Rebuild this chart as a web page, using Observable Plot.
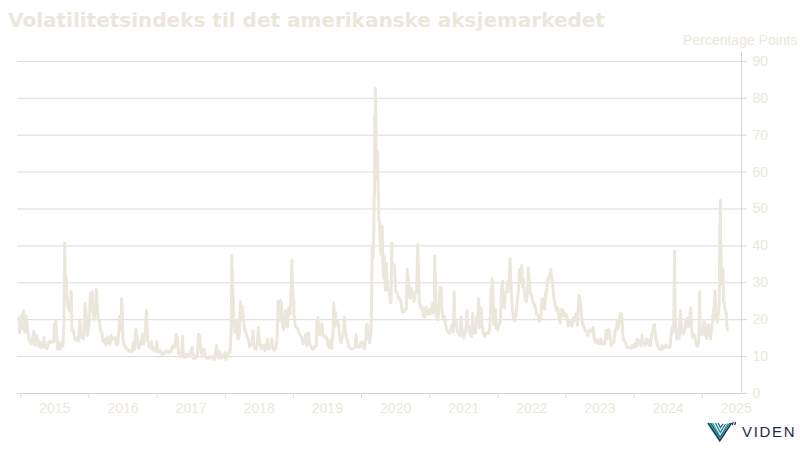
<!DOCTYPE html>
<html><head><meta charset="utf-8">
<script src="https://cdn.jsdelivr.net/npm/d3@7"></script>
<script src="https://cdn.jsdelivr.net/npm/@observablehq/plot@0.6"></script>
<style>
body{margin:0;background:#fff;}
#wrap{position:relative;width:800px;height:450px;overflow:hidden;background:#fff;}
#chart{position:absolute;left:0;top:0;}
#title{position:absolute;left:8px;top:8px;font-family:"DejaVu Sans",Verdana,sans-serif;font-weight:bold;font-size:20px;color:#ebe7da;white-space:nowrap;line-height:24px;}
#logo{position:absolute;left:707px;top:420px;height:22px;display:flex;align-items:center;}
#logo span{font-family:"Liberation Sans",Arial,sans-serif;font-size:15px;letter-spacing:1.7px;color:#1d2b4f;margin-left:4px;margin-top:0px;}
</style></head>
<body>
<div id="wrap">
<div id="chart"></div>
<div id="title">Volatilitetsindeks til det amerikanske aksjemarkedet</div>
<div id="logo">
<svg width="31" height="21" viewBox="0 0 31 21">
<polygon points="1,2 5,2 13,17 12.5,19.5" fill="#37bfa6"/>
<polyline points="5.5,2 13.2,16 21,2.5" fill="none" stroke="#2fa9a0" stroke-width="1.4"/>
<polyline points="8.5,2 13.3,11.5 18.5,3" fill="none" stroke="#2a8b98" stroke-width="1.4"/>
<polyline points="11.2,2 13.4,6.5 16,3" fill="none" stroke="#27708a" stroke-width="1.3"/>
<polyline points="1,2 12.8,19.8 24.5,2" fill="none" stroke="#1f3a5f" stroke-width="1.6"/>
<polyline points="3.5,2 13,16.5 22.8,2" fill="none" stroke="#254e73" stroke-width="1"/>
<line x1="26.2" y1="1" x2="25.4" y2="4" stroke="#1d2b4f" stroke-width="1.2"/>
<line x1="28.6" y1="1" x2="27.8" y2="4" stroke="#1d2b4f" stroke-width="1.2"/>
</svg><span>VIDEN</span></div>
</div>
<script>
// VIX daily close readings (month-day, points), per year
const vix2014 = [["12-22",20.5],["12-26",16.5],["12-31",19.2]];
const vix2015 = [["01-02",17.79],["01-06",21.12],["01-09",17.55],["01-15",22.39],["01-16",20.95],["01-23",16.66],["01-29",18.63],["01-30",20.97],["02-06",17.29],["02-13",14.69],["02-20",14.30],["02-27",13.34],["03-06",15.20],["03-11",16.87],["03-13",16.00],["03-20",13.02],["03-26",15.80],["03-27",15.07],["04-02",14.67],["04-10",12.58],["04-17",13.89],["04-24",12.29],["05-01",12.70],["05-06",15.15],["05-08",12.86],["05-15",12.38],["05-22",12.13],["05-29",13.84],["06-05",14.21],["06-12",13.78],["06-19",13.96],["06-26",14.02],["06-29",18.85],["07-02",16.79],["07-08",19.66],["07-10",16.83],["07-17",11.95],["07-24",13.74],["07-31",12.12],["08-07",13.39],["08-14",12.83],["08-20",19.14],["08-21",28.03],["08-24",40.74],["08-25",36.02],["08-26",30.32],["08-27",26.10],["08-28",26.05],["09-01",31.40],["09-04",27.80],["09-11",23.20],["09-18",22.28],["09-25",23.62],["09-28",27.63],["10-02",17.08],["10-09",17.08],["10-16",15.05],["10-23",14.46],["10-30",15.07],["11-06",14.33],["11-13",20.08],["11-20",15.47],["11-27",15.12],["12-04",14.81],["12-11",24.39],["12-14",22.73],["12-18",20.70],["12-24",15.74],["12-31",18.21]];
const vix2016 = [["01-04",20.70],["01-07",24.99],["01-08",27.01],["01-15",24.95],["01-20",27.59],["01-22",22.34],["01-29",20.20],["02-05",23.38],["02-11",28.14],["02-12",25.40],["02-19",20.53],["02-26",19.81],["03-04",16.86],["03-11",16.50],["03-18",14.02],["03-24",14.74],["04-01",13.10],["04-08",15.36],["04-15",13.62],["04-22",13.22],["04-29",15.70],["05-06",14.72],["05-13",15.04],["05-20",15.20],["05-27",13.12],["06-03",13.47],["06-10",17.03],["06-13",20.97],["06-17",19.41],["06-23",17.25],["06-24",25.76],["06-27",23.85],["07-01",14.77],["07-08",13.20],["07-15",12.67],["07-22",12.02],["07-29",11.87],["08-05",11.39],["08-12",11.55],["08-19",11.34],["08-26",13.65],["09-02",11.98],["09-09",17.50],["09-12",15.16],["09-16",15.37],["09-23",12.29],["09-30",13.29],["10-07",13.48],["10-14",16.12],["10-21",13.34],["10-28",16.19],["11-04",22.51],["11-11",14.17],["11-18",12.85],["11-25",12.34],["12-02",14.12],["12-09",11.75],["12-16",12.20],["12-23",11.44],["12-30",14.04]];
const vix2017 = [["01-06",11.32],["01-13",11.23],["01-20",11.54],["01-27",10.58],["02-03",10.97],["02-10",10.85],["02-17",11.49],["02-24",11.47],["03-03",10.96],["03-10",11.66],["03-17",11.28],["03-21",12.47],["03-24",12.96],["03-31",12.37],["04-07",12.87],["04-13",15.96],["04-21",14.63],["04-24",10.84],["04-28",10.82],["05-05",10.57],["05-09",9.96],["05-12",10.40],["05-17",15.59],["05-19",12.04],["05-26",9.81],["06-02",9.75],["06-09",10.70],["06-16",10.38],["06-23",10.02],["06-29",11.44],["06-30",11.18],["07-07",12.54],["07-14",9.51],["07-21",9.36],["07-28",10.29],["08-04",10.03],["08-10",16.04],["08-11",15.51],["08-17",15.55],["08-18",14.26],["08-25",11.28],["09-01",10.13],["09-08",12.12],["09-15",10.17],["09-22",9.59],["09-29",9.51],["10-06",9.65],["10-13",9.61],["10-20",10.01],["10-27",9.80],["11-03",9.14],["11-10",11.29],["11-15",13.13],["11-17",11.43],["11-24",9.67],["12-01",11.43],["12-08",9.58],["12-15",10.49],["12-22",9.90],["12-29",11.04]];
const vix2018 = [["01-05",9.22],["01-12",10.16],["01-19",11.27],["01-26",11.08],["01-30",14.79],["02-02",17.31],["02-05",37.32],["02-06",29.98],["02-07",27.73],["02-08",33.46],["02-09",29.06],["02-13",24.97],["02-16",19.46],["02-23",16.49],["02-28",19.85],["03-02",19.59],["03-09",14.64],["03-16",15.80],["03-22",23.34],["03-23",24.87],["03-29",19.97],["04-02",23.62],["04-06",21.49],["04-13",17.41],["04-20",16.88],["04-27",15.41],["05-04",14.77],["05-11",12.65],["05-18",13.42],["05-25",13.22],["05-29",17.02],["06-01",13.46],["06-08",12.18],["06-15",11.98],["06-22",13.77],["06-27",17.91],["06-29",16.09],["07-06",13.37],["07-13",12.18],["07-20",12.86],["07-27",13.03],["08-03",11.64],["08-10",13.16],["08-15",14.64],["08-17",12.64],["08-24",11.99],["08-31",12.86],["09-07",14.88],["09-14",12.07],["09-21",11.68],["09-28",12.12],["10-05",14.82],["10-10",22.96],["10-11",24.98],["10-12",21.31],["10-19",19.89],["10-24",25.23],["10-26",24.16],["10-29",24.70],["11-02",19.51],["11-09",17.36],["11-12",20.45],["11-16",18.14],["11-20",22.48],["11-23",21.52],["11-30",18.07],["12-04",20.74],["12-07",23.23],["12-14",21.63],["12-21",30.11],["12-24",36.07],["12-26",30.41],["12-28",28.34],["12-31",25.42]];
const vix2019 = [["01-03",25.45],["01-04",21.38],["01-11",18.19],["01-18",17.80],["01-25",17.42],["02-01",16.14],["02-08",15.72],["02-15",14.91],["02-22",13.51],["03-01",14.63],["03-08",16.05],["03-15",12.88],["03-22",16.48],["03-29",13.71],["04-05",12.82],["04-12",12.01],["04-18",12.09],["04-26",12.73],["05-03",12.87],["05-07",19.32],["05-10",16.04],["05-13",20.55],["05-17",15.96],["05-24",15.85],["05-31",18.71],["06-03",18.86],["06-07",16.30],["06-14",15.28],["06-21",15.40],["06-28",15.08],["07-05",13.28],["07-12",12.39],["07-19",14.45],["07-26",12.16],["08-02",17.61],["08-05",24.59],["08-09",17.97],["08-14",22.10],["08-16",18.47],["08-23",19.87],["08-30",18.98],["09-06",15.00],["09-13",13.74],["09-20",15.32],["09-27",17.22],["10-02",20.56],["10-04",17.04],["10-11",15.58],["10-18",14.25],["10-25",12.65],["11-01",12.30],["11-08",12.07],["11-15",12.05],["11-22",12.34],["11-29",12.62],["12-03",15.96],["12-06",13.62],["12-13",12.63],["12-20",12.51],["12-27",13.43]];
const vix2020 = [["01-03",14.02],["01-10",12.56],["01-17",12.10],["01-24",14.56],["01-27",18.23],["01-31",18.84],["02-07",15.47],["02-14",13.68],["02-21",17.08],["02-24",25.03],["02-25",27.85],["02-27",39.16],["02-28",40.11],["03-03",36.82],["03-05",39.62],["03-06",41.94],["03-09",54.46],["03-11",53.90],["03-12",75.47],["03-13",57.83],["03-16",82.69],["03-17",75.91],["03-18",76.45],["03-19",72.00],["03-20",66.04],["03-23",61.59],["03-24",61.67],["03-26",61.00],["03-27",65.54],["03-31",53.54],["04-02",50.91],["04-03",46.80],["04-07",46.70],["04-09",41.67],["04-14",37.76],["04-17",38.15],["04-21",45.41],["04-24",35.93],["04-29",31.23],["05-01",37.19],["05-08",27.98],["05-13",35.28],["05-15",31.89],["05-22",28.16],["05-29",27.51],["06-05",24.52],["06-08",25.81],["06-11",40.79],["06-12",36.09],["06-15",34.40],["06-19",35.12],["06-26",34.73],["07-02",27.68],["07-10",27.29],["07-17",25.68],["07-24",25.84],["07-31",24.46],["08-07",22.21],["08-14",22.05],["08-21",22.54],["08-28",22.96],["09-03",33.60],["09-04",30.75],["09-08",31.46],["09-11",26.87],["09-18",25.83],["09-23",28.58],["09-25",26.38],["10-02",27.63],["10-09",25.00],["10-16",27.41],["10-23",27.55],["10-28",40.28],["10-30",38.02],["11-04",29.57],["11-06",24.86],["11-13",23.10],["11-20",23.70],["11-27",20.84],["12-04",20.79],["12-11",23.31],["12-18",21.57],["12-24",21.53],["12-31",22.75]];
const vix2021 = [["01-08",21.56],["01-15",24.34],["01-22",21.91],["01-26",23.02],["01-27",37.21],["01-29",33.09],["02-01",30.24],["02-05",20.87],["02-12",19.97],["02-19",22.05],["02-25",28.89],["02-26",27.95],["03-04",28.57],["03-05",24.66],["03-12",20.69],["03-19",20.95],["03-26",18.86],["04-01",17.33],["04-09",16.69],["04-16",16.25],["04-23",17.33],["04-30",18.61],["05-07",16.69],["05-12",27.59],["05-14",18.81],["05-21",20.15],["05-28",16.76],["06-04",16.42],["06-11",15.65],["06-18",20.70],["06-25",15.62],["07-02",15.07],["07-09",16.18],["07-16",18.45],["07-19",22.50],["07-23",17.20],["07-30",18.24],["08-06",16.15],["08-13",15.45],["08-19",21.67],["08-20",18.56],["08-27",16.39],["09-03",16.41],["09-10",20.95],["09-17",20.81],["09-20",25.71],["09-24",17.75],["09-28",23.25],["10-01",21.15],["10-04",22.96],["10-08",18.77],["10-15",16.30],["10-22",15.43],["10-29",16.26],["11-05",16.48],["11-12",16.29],["11-19",17.91],["11-26",28.62],["11-30",27.19],["12-01",31.12],["12-03",30.67],["12-10",18.69],["12-17",21.57],["12-20",22.87],["12-23",17.96],["12-31",17.22]];
const vix2022 = [["01-07",18.76],["01-14",19.19],["01-21",28.85],["01-24",29.90],["01-27",30.49],["01-28",27.66],["02-04",23.22],["02-11",27.36],["02-18",27.75],["02-24",30.32],["02-25",27.59],["03-04",31.98],["03-07",36.45],["03-11",30.75],["03-18",23.87],["03-25",20.81],["04-01",19.63],["04-08",21.16],["04-14",24.37],["04-22",28.21],["04-26",33.52],["04-29",33.40],["05-06",30.19],["05-09",34.75],["05-13",28.87],["05-18",30.96],["05-20",29.43],["05-27",25.72],["06-03",24.79],["06-10",27.75],["06-13",34.02],["06-17",31.13],["06-24",27.23],["07-01",26.70],["07-08",24.64],["07-15",24.23],["07-22",23.03],["07-29",21.33],["08-05",21.15],["08-12",19.53],["08-19",20.60],["08-26",25.56],["09-02",25.47],["09-09",22.79],["09-13",27.27],["09-16",26.30],["09-23",29.92],["09-30",31.62],["10-07",31.36],["10-12",33.57],["10-14",32.02],["10-21",29.69],["10-28",25.75],["11-04",24.55],["11-11",22.52],["11-18",23.12],["11-25",20.50],["12-02",19.06],["12-09",22.83],["12-16",22.62],["12-23",20.87],["12-30",21.67]];
const vix2023 = [["01-06",21.13],["01-13",18.35],["01-20",19.85],["01-27",18.51],["02-03",18.33],["02-10",20.53],["02-17",20.02],["02-24",21.67],["03-03",18.49],["03-10",24.80],["03-13",26.52],["03-17",25.51],["03-24",21.74],["03-31",18.70],["04-06",18.40],["04-14",17.07],["04-21",16.77],["04-28",15.78],["05-05",17.19],["05-12",17.03],["05-19",16.81],["05-26",17.95],["06-02",14.60],["06-09",13.83],["06-16",14.69],["06-23",13.44],["06-30",13.59],["07-07",14.83],["07-14",13.34],["07-21",13.60],["07-28",13.33],["08-04",17.10],["08-11",14.84],["08-18",17.30],["08-25",15.68],["09-01",13.09],["09-08",13.84],["09-15",13.79],["09-22",17.20],["09-29",17.52],["10-03",19.78],["10-06",17.45],["10-13",19.32],["10-20",21.71],["10-27",21.27],["11-03",14.91],["11-10",14.17],["11-17",13.80],["11-24",12.46],["12-01",12.63],["12-08",12.35],["12-15",12.28],["12-22",13.03],["12-29",12.45]];
const vix2024 = [["01-05",13.35],["01-12",12.70],["01-17",14.79],["01-19",13.30],["01-26",13.26],["01-31",14.35],["02-02",13.85],["02-09",12.93],["02-13",15.85],["02-16",14.24],["02-23",13.75],["03-01",13.11],["03-08",14.74],["03-15",14.41],["03-22",13.06],["03-28",13.01],["04-05",16.03],["04-12",17.31],["04-16",18.40],["04-19",18.71],["04-26",15.03],["05-03",13.49],["05-10",12.55],["05-17",11.99],["05-24",11.93],["05-31",12.92],["06-07",12.22],["06-14",12.66],["06-21",13.20],["06-28",12.44],["07-05",12.48],["07-12",12.46],["07-19",16.52],["07-24",18.04],["07-26",16.39],["08-01",18.59],["08-02",23.39],["08-05",38.57],["08-06",27.71],["08-07",27.85],["08-09",20.37],["08-16",14.80],["08-23",16.86],["08-30",15.00],["09-03",20.72],["09-06",22.38],["09-13",16.56],["09-20",16.15],["09-27",16.96],["10-04",19.21],["10-11",20.46],["10-18",18.03],["10-25",20.33],["10-31",23.16],["11-01",21.88],["11-08",15.20],["11-15",16.14],["11-22",15.24],["11-29",13.51],["12-06",12.77],["12-13",13.81],["12-18",27.62],["12-20",18.36],["12-27",15.95],["12-31",17.35]];
const vix2025 = [["01-03",16.13],["01-10",19.54],["01-13",19.19],["01-17",15.97],["01-24",14.85],["01-27",17.90],["01-31",16.43],["02-03",18.62],["02-07",16.54],["02-14",14.77],["02-21",18.21],["02-27",21.13],["02-28",19.63],["03-04",23.51],["03-07",23.37],["03-10",27.86],["03-11",26.92],["03-14",21.77],["03-21",19.28],["03-28",21.65],["03-31",22.28],["04-03",30.02],["04-04",45.31],["04-07",46.98],["04-08",52.33],["04-09",33.62],["04-10",40.72],["04-11",37.56],["04-14",30.89],["04-17",29.65],["04-21",33.82],["04-25",24.84],["04-30",24.70],["05-02",22.68],["05-09",21.90],["05-12",18.39],["05-16",17.24]];

const years = [2015,2016,2017,2018,2019,2020,2021,2022,2023,2024,2025];
const yTicks = [0,10,20,30,40,50,60,70,80,90];
const yTitle = "Percentage Points";
const xStart = new Date("2014-12-14"), xEnd = new Date("2025-07-30");
const yTop = 92.4;

const byYear = {2014:vix2014,2015:vix2015,2016:vix2016,2017:vix2017,2018:vix2018,2019:vix2019,2020:vix2020,2021:vix2021,2022:vix2022,2023:vix2023,2024:vix2024,2025:vix2025};
const data = [];
for (const y of Object.keys(byYear)) for (const [md, v] of byYear[y]) data.push({date: new Date(`${y}-${md}`), value: v});
data.sort((a,b)=>a.date-b.date);

const yearStarts = years.map(y => new Date(Date.UTC(y,0,1)));
const midYears = years.map(y => new Date(Date.UTC(y,6,2)));

const txt = "#ebe7da";
const chart = Plot.plot({
  width: 800, height: 450,
  marginLeft: 17, marginRight: 59, marginTop: 52, marginBottom: 57,
  style: {fontFamily: "'Liberation Sans', Arial, sans-serif", fontSize: "14px", color: txt, background: "transparent"},
  x: {type: "utc", domain: [xStart, xEnd]},
  y: {domain: [0, yTop]},
  marks: [
    Plot.gridY(yTicks, {stroke: "#dbdbdb", strokeOpacity: 1}),
    Plot.ruleY([0], {stroke: "#d2d2d2"}),
    Plot.ruleX([xEnd], {y1: 0, y2: yTop, stroke: "#d6d6d6"}),
    Plot.axisY(yTicks, {anchor: "right", tickSize: 5, tickPadding: 6, stroke: "#d6d6d6", fill: txt, label: null}),
    Plot.axisX(yearStarts, {tickSize: 5, tickFormat: () => "", stroke: "#dcdcdc", label: null}),
    Plot.axisX(midYears, {tickSize: 0, tickPadding: 10, tickFormat: d => String(d.getUTCFullYear()), fill: txt, label: null}),
    Plot.lineY(data, {x: "date", y: "value", stroke: "#ebe7dc", strokeWidth: 3, strokeLinejoin: "round"}),
    Plot.text([yTitle], {frameAnchor: "top-right", dx: 56, dy: -12, lineAnchor: "middle", textAnchor: "end", fill: txt})
  ]
});
document.getElementById("chart").appendChild(chart);
</script>
</body></html>
